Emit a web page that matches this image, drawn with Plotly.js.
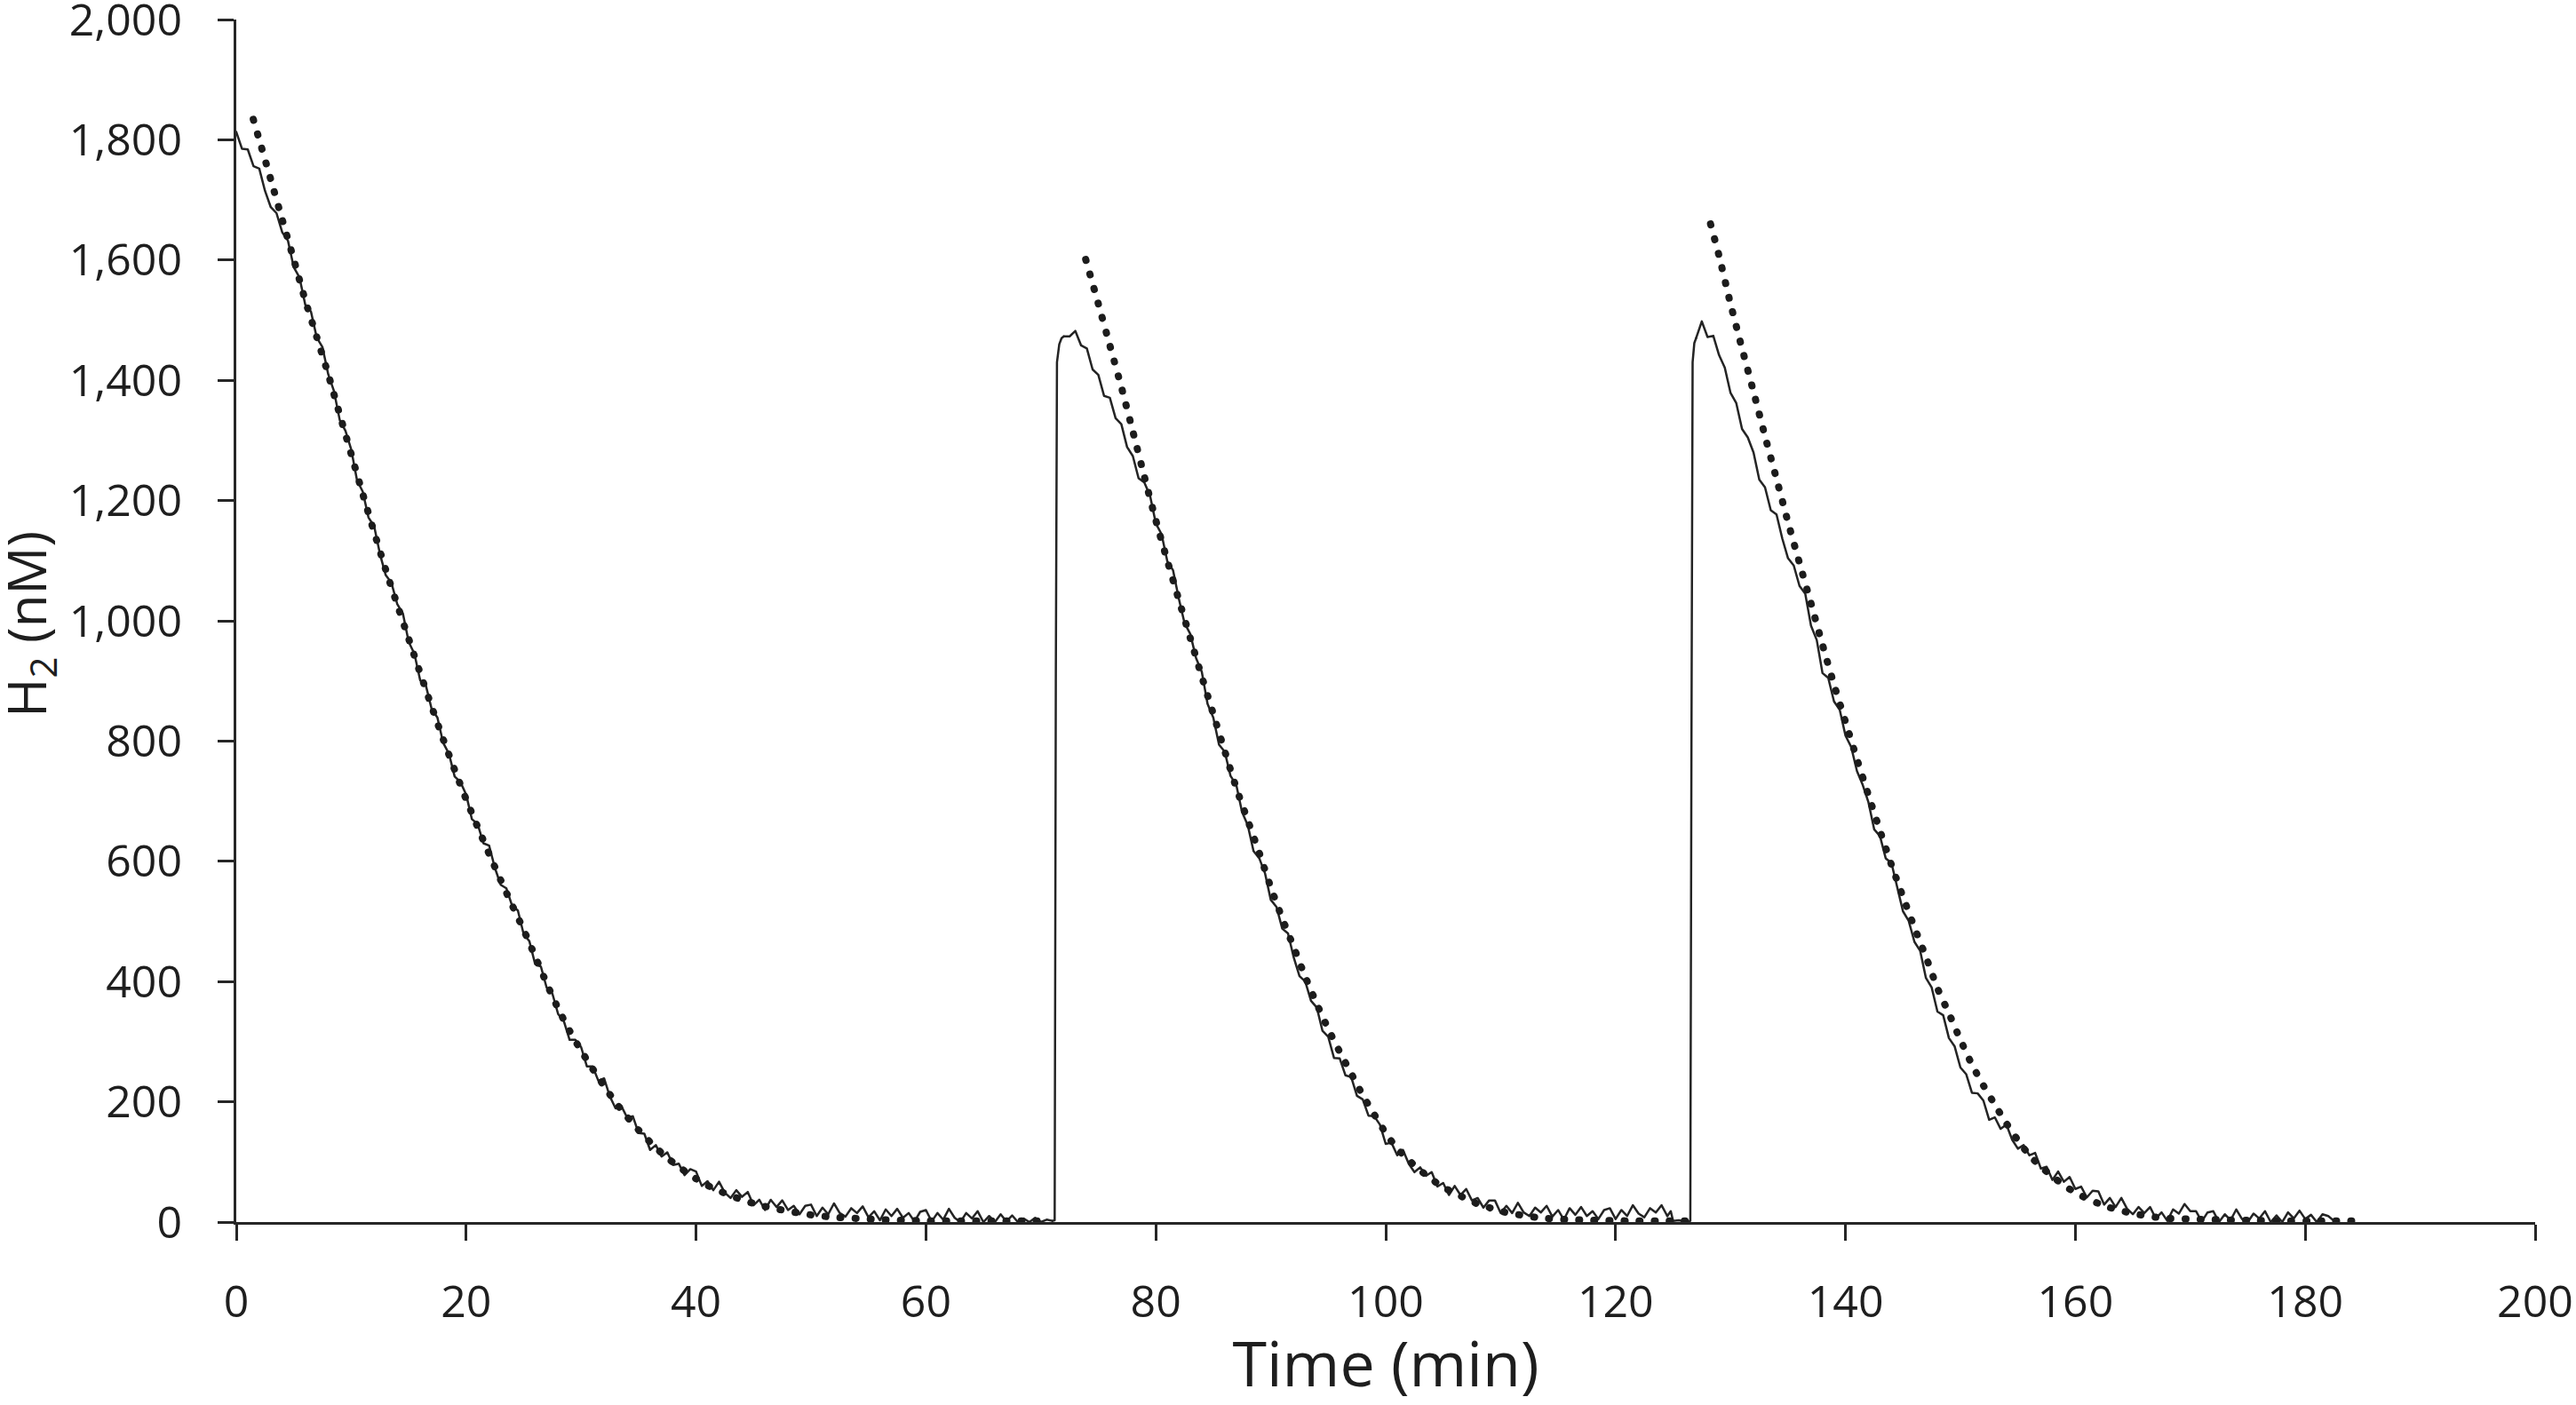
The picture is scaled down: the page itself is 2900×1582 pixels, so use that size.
<!DOCTYPE html>
<html>
<head>
<meta charset="utf-8">
<script src="https://cdn.plot.ly/plotly-3.0.1.min.js"></script>
<style>
  html, body { margin: 0; padding: 0; background: #ffffff; }
  #chart { width: 2900px; height: 1582px; }
  .scatterlayer path.js-line { stroke-linecap: round !important; stroke-linejoin: round !important; }
  .cartesianlayer .plot, .cartesianlayer .plot g { clip-path: none !important; }
</style>
</head>
<body>
<div id="chart"></div>
<script>
// ---- Measured H2 trace (solid), sampled every 0.5 min, read from the picture ----
// run 1: t = 0 ... 71 min
const meas1Start = 0;
const meas1Step = 0.5;
const meas1 = [1813,1785,1784,1756,1752,1715,1688,1678,1646,1632,1588,1571,1526,1514,1471,1455,1410,1382,1334,1316,
  1285,1234,1215,1172,1157,1111,1076,1063,1028,1012,965,945,901,892,853,839,797,779,741,732,
  711,670,662,630,626,589,561,555,526,518,479,467,429,425,390,380,346,334,303,303,
  291,259,259,235,239,209,189,193,174,176,148,147,120,128,109,116,95,97,78,88,
  84,60,68,53,67,49,40,53,42,50,28,37,20,37,25,36,20,27,13,27,
  29,10,24,13,31,15,9,23,15,26,8,18,3,21,10,22,7,15,1,17,
  20,1,15,4,22,7,0,15,6,18,0,10,0,13,1,11,0,6,0,7,0,4,2];
// injection 2 rise
const rise2T = [71, 71.2, 71.3, 71.4, 71.6, 71.8, 72];
const rise2V = [2, 3, 900, 1430, 1460, 1470, 1473];
// run 2: t = 72 ... 124.5 min
const meas2Start = 72;
const meas2Step = 0.5;
const meas2 = [1473,1473,1482,1458,1453,1418,1409,1374,1371,1337,1327,1289,1274,1237,1230,1208,1162,1144,1099,1084,
  1037,996,978,938,915,862,839,794,782,742,727,682,660,617,605,580,536,524,488,480,
  440,409,400,368,357,318,308,273,272,244,241,210,204,177,176,162,130,132,111,120,
  97,83,91,77,83,59,65,45,60,45,55,36,40,24,36,36,15,27,15,32,
  16,10,24,16,27,9,20,4,23,12,25,10,18,5,20,23,5,20,10,28,
  14,8,23,16,28,10];
// baseline drop and injection 3 rise
const rise3T = [124.5, 124.8, 125, 125.5, 126, 126.5, 126.6, 126.7, 126.85, 127];
const rise3V = [10, 18, 2, 3, 1, 2, 800, 1430, 1462, 1470];
// run 3: t = 127 ... 182.5 min
const meas3Start = 127;
const meas3Step = 0.5;
const meas3 = [1470,1498,1472,1474,1442,1421,1379,1362,1319,1305,1280,1235,1222,1184,1177,1137,1104,1092,1058,1045,
  992,968,913,905,866,852,809,790,750,727,698,653,642,605,597,555,517,501,466,451,
  406,390,350,344,306,292,257,246,215,214,202,170,174,155,162,137,122,128,111,115,
  89,92,70,84,67,75,55,59,41,52,51,29,40,25,40,22,13,25,15,25,
  6,16,2,21,14,30,18,18,1,16,18,0,13,3,21,5,0,14,6,18,
  0,11,0,16,6,19,5,12,0,13,10,2];

// ---- Model fits (dotted) ----
const fit1T = [1.48,2,3,4,5,6,7,8,9,10,11,12,13,14,15,16,17,18,19,20,21,22,23,24,25,26,27,28,29,30,31,32,33,34,35,36,37,38,39,40,41,42,43,44,45,46,47,48,49,50,52,54,56,58,60,63,66,70.5];
const fit1V = [1834,1800,1734,1667,1601,1533,1472,1410,1343,1277,1211,1147,1085,1027,970,913,857,803,752,703,657,612,569,527,486,442,397,355,318,285,255,226,199,175,153,133,115,99,85,72,61,52,44,37,31,26,22,18,15,12,8,6,4,3,2,2,2,2];
const fit2T = [73.9,75,76,77,78,79,80,81,82,83,84,85,86,87,88,89,90,91,92,93,94,95,96,97,98,99,100,101,102,103,104,105,106,107,108,109,110,111,112,113,114,115,116,118,121,124,126.4];
const fit2V = [1601,1527,1458,1389,1315,1240,1167,1100,1035,971,907,845,783,722,668,614,557,505,457,408,363,321,283,247,211,179,148,122,103,86,71,58,48,39,30,24,18,14,11,8,6,5,4,3,2,2,2];
const fit3T = [128.26,129,130,131,132,133,134,135,136,137,138,139,140,141,142,143,144,145,146,147,148,149,150,151,152,153,154,155,156,157,158,159,160,161,162,163,164,165,166,167,168,170,172,175,178,181,184.8];
const fit3V = [1660,1607,1527,1453,1381,1307,1236,1164,1096,1029,960,894,832,770,710,651,594,541,490,441,389,347,303,262,227,195,164,136,111,92,76,61,49,39,31,24,19,14,11,8,6,5,4,3,2,2,2];

// ---- Axes ----
const xRange = [0, 200];
const xStep = 20;
const yRange = [0, 2000];
const yStep = 200;
const xTitle = 'Time (min)';
const yTitle = 'H<sub>2</sub> (nM)';

const solidLine = { color: '#242424', width: 2.5 };
const dotLine = { color: '#1c1c1c', width: 8, dash: '1px,16px', shape: 'spline', smoothing: 0.6 };

const traces = [
  { x0: meas1Start, dx: meas1Step, y: meas1, mode: 'lines', line: solidLine, hoverinfo: 'skip' },
  { x: rise2T, y: rise2V, mode: 'lines', line: solidLine, hoverinfo: 'skip' },
  { x0: meas2Start, dx: meas2Step, y: meas2, mode: 'lines', line: solidLine, hoverinfo: 'skip' },
  { x: rise3T, y: rise3V, mode: 'lines', line: solidLine, hoverinfo: 'skip' },
  { x0: meas3Start, dx: meas3Step, y: meas3, mode: 'lines', line: solidLine, hoverinfo: 'skip' },
  { x: fit1T, y: fit1V, mode: 'lines', line: dotLine, hoverinfo: 'skip' },
  { x: fit2T, y: fit2V, mode: 'lines', line: dotLine, hoverinfo: 'skip' },
  { x: fit3T, y: fit3V, mode: 'lines', line: dotLine, hoverinfo: 'skip' }
];

const axisColor = '#262626';
const fontFam = '"Open Sans", "Noto Sans", sans-serif';

const layout = {
  width: 2900,
  height: 1582,
  margin: { l: 266, r: 46, t: 22, b: 206, pad: 0 },
  paper_bgcolor: '#ffffff',
  plot_bgcolor: '#ffffff',
  showlegend: false,
  font: { family: fontFam, color: '#1e1e1e' },
  xaxis: {
    range: xRange, dtick: xStep, tick0: 0,
    showgrid: false, zeroline: false,
    showline: true, linecolor: axisColor, linewidth: 3,
    ticks: 'outside', ticklen: 18, tickwidth: 3, tickcolor: axisColor,
    tickfont: { family: fontFam, size: 50, color: '#1e1e1e' },
    ticklabelstandoff: 26,
    ticklabeloverflow: 'allow',
    title: { text: xTitle, font: { family: fontFam, size: 70, color: '#1e1e1e' }, standoff: 30 },
    fixedrange: true
  },
  yaxis: {
    range: yRange, dtick: yStep, tick0: 0,
    tickformat: ',d',
    showgrid: false, zeroline: false,
    showline: true, linecolor: axisColor, linewidth: 3,
    ticks: 'outside', ticklen: 18, tickwidth: 3, tickcolor: axisColor,
    tickfont: { family: fontFam, size: 50, color: '#1e1e1e' },
    ticklabelstandoff: 30,
    ticklabeloverflow: 'allow',
    fixedrange: true
  },
  annotations: [{
    text: yTitle,
    xref: 'paper', yref: 'paper',
    x: -0.0905, y: 0.497,
    xanchor: 'center', yanchor: 'middle',
    textangle: -90,
    showarrow: false,
    font: { family: fontFam, size: 60, color: '#1e1e1e' }
  }]
};

Plotly.newPlot('chart', traces, layout, { displayModeBar: false, staticPlot: true });
</script>
</body>
</html>
